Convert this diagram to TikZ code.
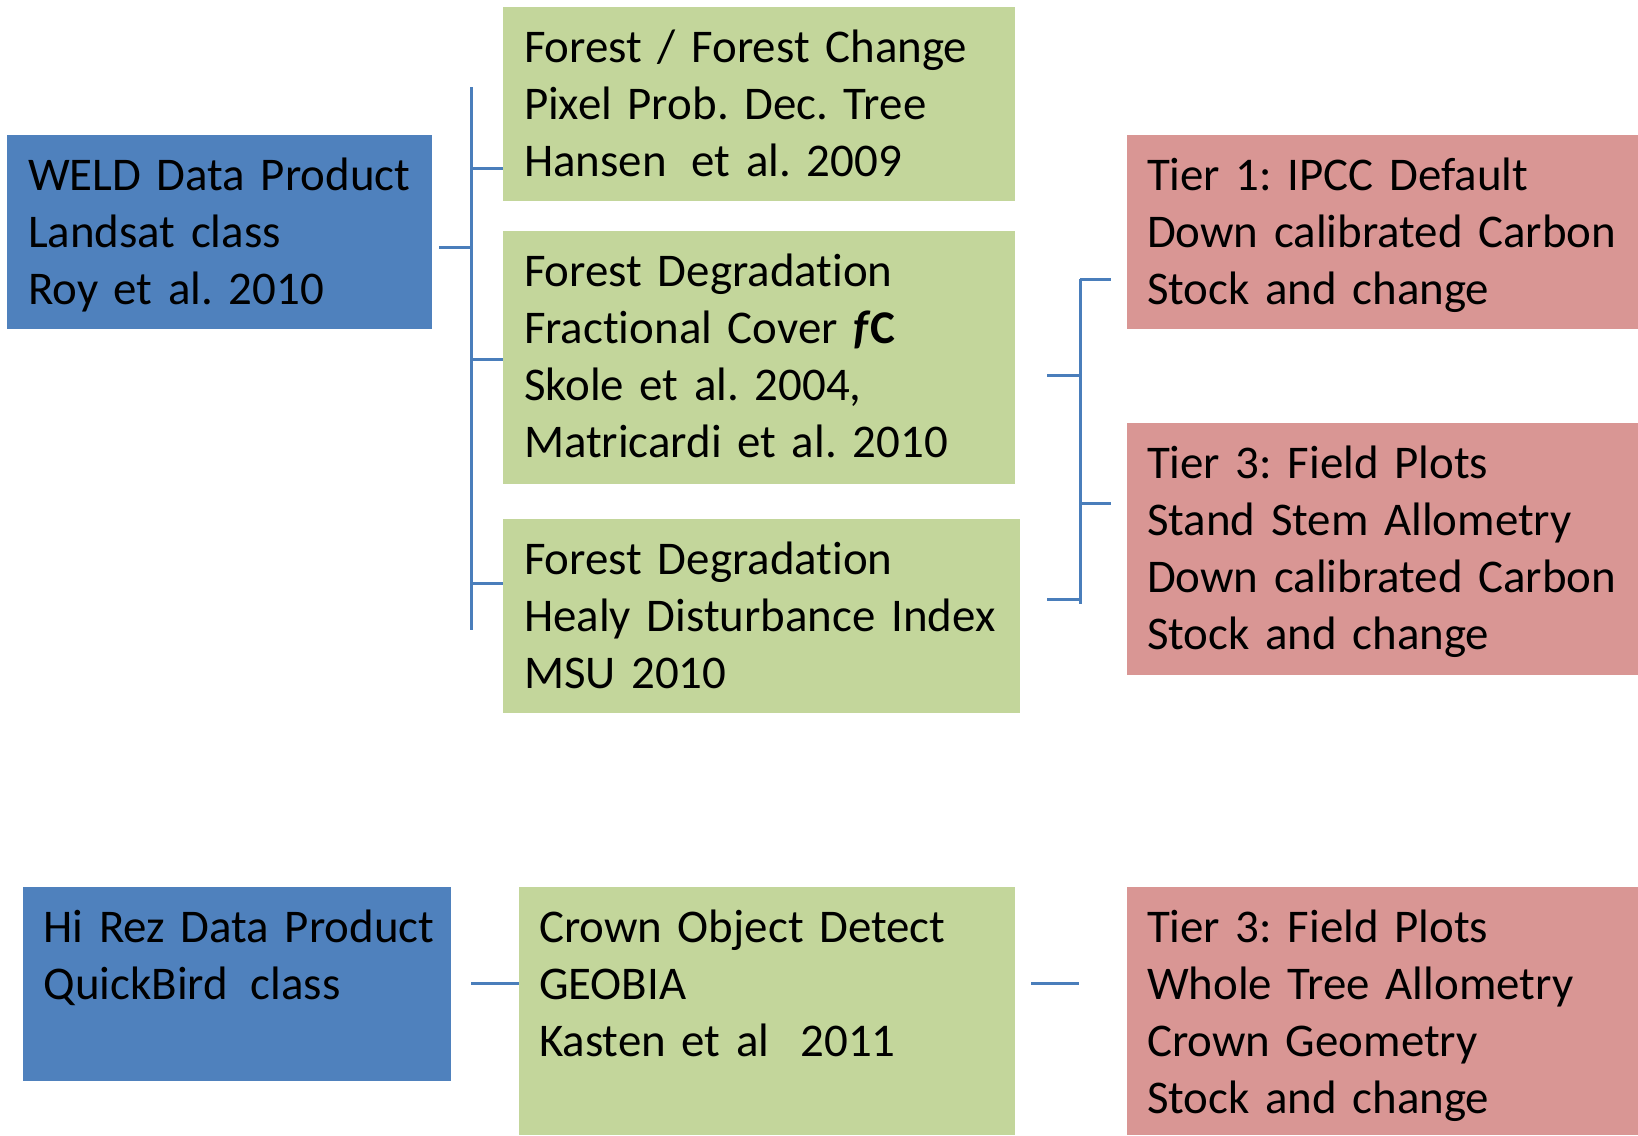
\documentclass[tikz,border=0pt]{standalone}
\usepackage{fontspec}
\setmainfont{Carlito}[RawFeature={-liga}]
\frenchspacing
\definecolor{bluebox}{HTML}{4F81BD}
\definecolor{greenbox}{HTML}{C3D69B}
\definecolor{redbox}{HTML}{D99694}
\definecolor{linkblue}{HTML}{4A7EBB}
\begin{document}
\begin{tikzpicture}[x=0.5pt,y=-0.5pt,
  boxbase/.style={draw=none, inner sep=0pt, outer sep=0pt, anchor=north west},
  bluebx/.style={boxbase, fill=bluebox},
  greenbx/.style={boxbase, fill=greenbox},
  redbx/.style={boxbase, fill=redbox},
  txt/.style={anchor=base west, inner sep=0pt, outer sep=0pt, text width=300pt, align=left,
    font=\fontsize{23.45}{28.65}\selectfont\frenchspacing, text=black},
  link/.style={draw=linkblue, line width=1.5pt}]
\useasboundingbox (0,0) rectangle (1638,1135);

% boxes
\node[bluebx, minimum width=212.5pt, minimum height=97pt] (blue1) at (7,135) {};
\node[greenbx, minimum width=256pt, minimum height=97pt] (green1) at (503,7) {};
\node[greenbx, minimum width=256pt, minimum height=126.25pt] (green2) at (503,231) {};
\node[greenbx, minimum width=258.5pt, minimum height=97pt] (green3) at (503,519) {};
\node[redbx, minimum width=255.5pt, minimum height=97pt] (red1) at (1127,135) {};
\node[redbx, minimum width=255.5pt, minimum height=126pt] (red2) at (1127,423) {};
\node[bluebx, minimum width=214pt, minimum height=97pt] (blue2) at (23,887) {};
\node[greenbx, minimum width=248pt, minimum height=124pt] (green4) at (519,887) {};
\node[redbx, minimum width=255.5pt, minimum height=124pt] (red3) at (1127,887) {};

% texts
\node[txt] (tblue1) at (28,190) {WELD Data Product\\Landsat class\\Roy et al. 2010};
\node[txt] (tgreen1) at (524,62) {Forest / Forest Change\\Pixel Prob. Dec. Tree\\Hansen\hspace{0.2em} et al. 2009};
\node[txt] (tgreen2) at (524,286) {Forest Degradation\\Fractional Cover \textbf{\textit{f}C}\\Skole et al. 2004,\\Matricardi et al. 2010};
\node[txt] (tgreen3) at (524,574) {Forest Degradation\\Healy Disturbance Index\\MSU 2010};
\node[txt] (tred1) at (1147,190) {Tier 1: IPCC Default\\Down calibrated Carbon\\Stock and change};
\node[txt] (tred2) at (1147,478) {Tier 3: Field Plots\\Stand Stem Allometry\\Down calibrated Carbon\\Stock and change};
\node[txt] (tblue2) at (43.5,942) {Hi Rez Data Product\\QuickBird\hspace{0.15em} class};
\node[txt] (tgreen4) at (539,942) {Crown Object Detect\\GEOBIA\\Kasten et al\ \ 2011};
\node[txt] (tred3) at (1147,942) {Tier 3: Field Plots\\Whole Tree Allometry\\Crown Geometry\\Stock and change};

% left bracket
\coordinate (lbtop) at (471,87);
\coordinate (lbbot) at (471,630);
\coordinate (lbin) at (439,247.5);
\coordinate (lt1) at (471,168);
\coordinate (lt2) at (471,359);
\coordinate (lt3) at (471,583);
\draw[link] (lbtop) -- (lbbot);
\draw[link] (lbin) -- (lbin -| lbtop);
\draw[link] (lt1) -- (lt1 -| green1.west);
\draw[link] (lt2) -- (lt2 -| green2.west);
\draw[link] (lt3) -- (lt3 -| green3.west);

% right bracket
\coordinate (rbtop) at (1080,279);
\coordinate (rbbot) at (1080,604);
\coordinate (rin1) at (1047,375);
\coordinate (rin2) at (1047,599);
\coordinate (rt1e) at (1111,279);
\coordinate (rt2e) at (1111,503);
\draw[link] (rbtop) -- (rbbot);
\draw[link] (rin1) -- (rin1 -| rbtop);
\draw[link] (rin2) -- (rin2 -| rbtop);
\draw[link] (rbtop) -- (rt1e);
\draw[link] (rt2e -| rbtop) -- (rt2e);

% bottom row
\coordinate (bl1) at (471,983);
\coordinate (br1) at (1031,983);
\coordinate (br2) at (1078.6,983);
\draw[link] (bl1) -- (bl1 -| green4.west);
\draw[link] (br1) -- (br2);
\end{tikzpicture}
\end{document}
